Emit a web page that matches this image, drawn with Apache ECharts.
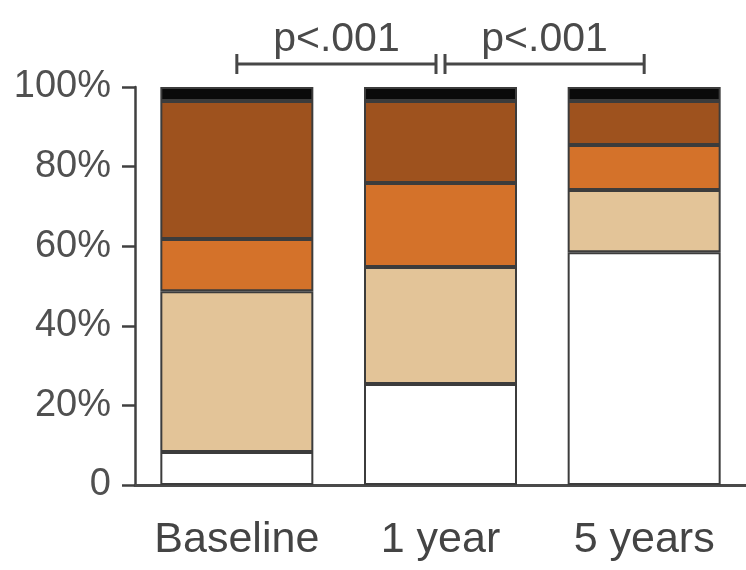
<!DOCTYPE html>
<html><head><meta charset="utf-8">
<script src="https://cdn.jsdelivr.net/npm/echarts@6/dist/echarts.min.js"></script>
<style>html,body{margin:0;padding:0;background:#fff}#c{width:746px;height:570px}</style>
</head><body><div id="c"></div>
<script>
const categories = ['Baseline', '1 year', '5 years'];
const yTicks = [0, 20, 40, 60, 80, 100];
const level1 = [8.3, 25.4, 58.5];   // white (bottom)
const level2 = [40.4, 29.4, 15.6];  // tan
const level3 = [13.1, 21.1, 11.3];  // orange
const level4 = [34.7, 20.6, 11.1];  // dark brown
const level5 = [3.5, 3.5, 3.5];     // black (top)
const bracketPairs = [['Baseline', '1 year'], ['1 year', '5 years']];
const pLabels = ['p<.001', 'p<.001'];

const levels = [level1, level2, level3, level4, level5];
const colors = ['#ffffff', '#e3c498', '#d4722a', '#9e521e', '#0a0a0a'];
const FONT = '"Liberation Sans", Arial, sans-serif';

const chart = echarts.init(document.getElementById('c'), null, {renderer: 'canvas'});

const barSeries = levels.map((vals, i) => ({
  type: 'bar',
  stack: 'total',
  barWidth: 153,
  data: vals,
  itemStyle: {color: colors[i], borderColor: '#3c3c3c', borderWidth: 2},
  emphasis: {disabled: true},
  z: 2
}));

const bracketSeries = {
  type: 'custom',
  coordinateSystem: 'cartesian2d',
  clip: false,
  z: 5,
  encode: {x: [0, 1], y: 2},
  data: bracketPairs.map(p => [categories.indexOf(p[0]), categories.indexOf(p[1]), yTicks[yTicks.length - 1]]),
  renderItem: function (params, api) {
    const i = params.dataIndex;
    const top = api.coord([api.value(0), api.value(2)])[1];
    const yb = top - 23;
    let x1 = api.coord([api.value(0), api.value(2)])[0];
    let x2 = api.coord([api.value(1), api.value(2)])[0];
    const gap = 4.5;
    if (bracketPairs.some(p => p[1] === bracketPairs[i][0])) x1 += gap;
    if (bracketPairs.some(p => p[0] === bracketPairs[i][1])) x2 -= gap;
    const h = 10;
    const st = {stroke: '#474747', lineWidth: 3};
    return {
      type: 'group',
      children: [
        {type: 'line', shape: {x1: x1, y1: yb, x2: x2, y2: yb}, style: st},
        {type: 'line', shape: {x1: x1, y1: yb - h, x2: x1, y2: yb + h}, style: st},
        {type: 'line', shape: {x1: x2, y1: yb - h, x2: x2, y2: yb + h}, style: st},
        {type: 'text', x: (x1 + x2) / 2, y: yb - 4,
          style: {text: pLabels[i], fill: '#4a4a4a', font: '41px ' + FONT, align: 'center', verticalAlign: 'bottom'}}
      ]
    };
  }
};

chart.setOption({
  animation: false,
  backgroundColor: '#ffffff',
  grid: {left: 135, top: 87, width: 618, bottom: 85, containLabel: false},
  xAxis: {
    type: 'category',
    data: categories,
    axisLine: {show: true, lineStyle: {color: '#4a4a4a', width: 3}},
    axisTick: {show: false},
    axisLabel: {color: '#444', fontSize: 43, fontFamily: FONT, margin: 34, interval: 0}
  },
  yAxis: {
    type: 'value',
    min: 0, max: 100, interval: 20,
    axisLine: {show: true, lineStyle: {color: '#404040', width: 2.5}},
    axisTick: {show: true, inside: false, length: 13, lineStyle: {color: '#404040', width: 2.5}},
    splitLine: {show: false},
    axisLabel: {
      color: '#505050', fontSize: 38, fontFamily: FONT, margin: 24,
      formatter: v => (v === 0 ? '0' : v + '%')
    }
  },
  series: barSeries.concat([bracketSeries])
});
</script>
</body></html>
